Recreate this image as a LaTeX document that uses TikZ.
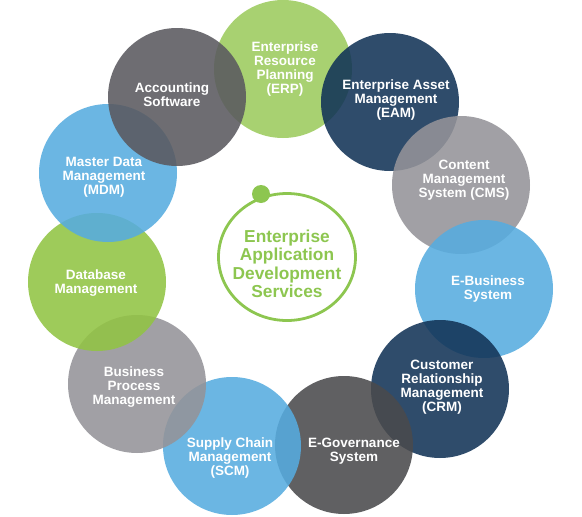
\documentclass[tikz,border=0pt]{standalone}
\usepackage{fontspec}
\setmainfont{Liberation Sans}
\usepackage{xcolor}
\usepackage{tikz}
\usetikzlibrary{shapes.geometric}

\definecolor{leafgreen}{RGB}{156,203,93}
\definecolor{grassgreen}{RGB}{145,196,67}
\definecolor{skyblue}{RGB}{86,172,223}
\definecolor{inkblue}{RGB}{18,51,87}
\definecolor{slategray}{RGB}{90,89,95}
\definecolor{coalgray}{RGB}{74,74,76}
\definecolor{mistgray}{RGB}{148,147,152}
\definecolor{ringgreen}{RGB}{141,198,80}

\tikzset{
  bubble/.style={circle, draw=none, minimum size=138pt, inner sep=0pt, fill opacity=0.88},
  bubtext/.style={text=white, align=center, inner sep=0pt, font=\fontsize{13.5}{14}\selectfont\bfseries},
  hub/.style={ellipse, draw=ringgreen, line width=2.8pt, minimum width=137pt, minimum height=127pt, inner sep=0pt},
  hubtext/.style={text=ringgreen, align=center, inner sep=0pt, font=\fontsize{17.3}{18.5}\selectfont\bfseries},
  knob/.style={circle, fill=ringgreen, minimum size=18pt, inner sep=0pt}
}

\begin{document}
\begin{tikzpicture}[x=1pt, y=-1pt]
             \useasboundingbox (0,0) rectangle (582,517);

             \node[bubble, fill=leafgreen] (erp) at (283,69) {};
             \node[bubble, fill=inkblue] (eam) at (390,102) {};
             \node[bubble, fill=mistgray] (cms) at (461,185) {};
             \node[bubble, fill=skyblue] (ebiz) at (484,289) {};
             \node[bubble, fill=inkblue] (crm) at (440,389) {};
             \node[bubble, fill=coalgray] (egov) at (344,445) {};
             \node[bubble, fill=skyblue] (scm) at (232,446) {};
             \node[bubble, fill=mistgray] (bpm) at (137,384) {};
             \node[bubble, fill=grassgreen] (dbm) at (97,282) {};
             \node[bubble, fill=skyblue] (mdm) at (108,173) {};
             \node[bubble, fill=slategray] (acct) at (177,97) {};

             \node[bubtext] (erp-t) at (285,69) {Enterprise\\Resource\\Planning\\(ERP)};
             \node[bubtext] (eam-t) at (396,100) {Enterprise Asset\\Management\\(EAM)};
             \node[bubtext] (cms-t) at (464,180) {Content\\Management\\System (CMS)};
             \node[bubtext] (ebiz-t) at (488,289) {E-Business\\System};
             \node[bubtext] (crm-t) at (442,387) {Customer\\Relationship\\Management\\(CRM)};
             \node[bubtext] (egov-t) at (354,451) {E-Governance\\System};
             \node[bubtext] (scm-t) at (230,458) {Supply Chain\\Management\\(SCM)};
             \node[bubtext] (bpm-t) at (134,387) {Business\\Process\\Management};
             \node[bubtext] (dbm-t) at (96,283) {Database\\Management};
             \node[bubtext] (mdm-t) at (104,177) {Master Data\\Management\\(MDM)};
             \node[bubtext] (acct-t) at (172,95) {Accounting\\Software};

             \node[hub] (hub) at (287,257) {};
             \node[knob] (knob) at (261,194) {};
             \node[hubtext] (hub-t) at (287,264) {Enterprise\\Application\\Development\\Services};

\end{tikzpicture}
\end{document}
